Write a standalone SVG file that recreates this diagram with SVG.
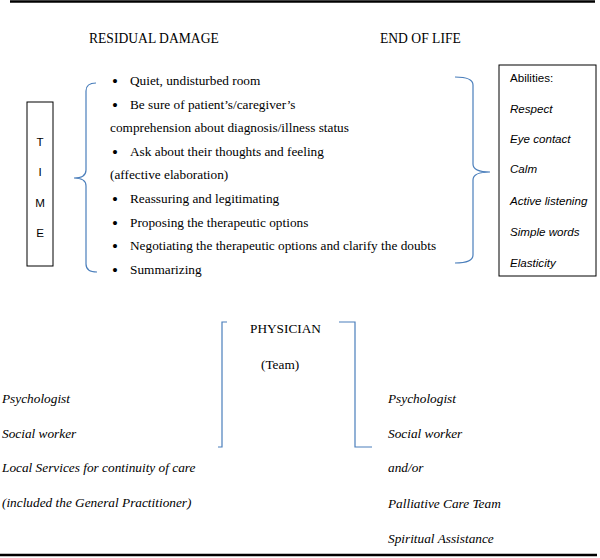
<svg xmlns="http://www.w3.org/2000/svg" width="600" height="558" viewBox="0 0 600 558">
<style>
.s{font-family:"Liberation Serif","Times New Roman",serif;font-size:13.3px;fill:#000}
.i{font-style:italic}
.d{font-family:"Liberation Serif","Times New Roman",serif;font-size:17px;fill:#000}
.h{font-family:"Liberation Serif","Times New Roman",serif;font-size:13.6px;fill:#000}
.c{font-family:"Liberation Sans",Arial,sans-serif;font-size:11.6px;fill:#000}
.b{fill:none;stroke:#4a7ebb;stroke-width:1.2}
.box{fill:#fff;stroke:#000;stroke-width:1}
.rule{stroke:#000;stroke-width:2.5}
</style>
<rect width="600" height="558" fill="#fff"/>
<line class="rule" x1="10" y1="1.5" x2="595" y2="1.5"/>
<line class="rule" x1="0" y1="555" x2="597" y2="555"/>
<text class="h" x="89" y="43">RESIDUAL DAMAGE</text>
<text class="h" x="380" y="43">END OF LIFE</text>
<g id="time">
<rect class="box" x="27" y="102" width="26" height="164"/>
<text class="c" x="40" y="146" text-anchor="middle">T</text>
<text class="c" x="40" y="176" text-anchor="middle">I</text>
<text class="c" x="40" y="207" text-anchor="middle">M</text>
<text class="c" x="40" y="237" text-anchor="middle">E</text>
</g>
<g id="connectors">
<path class="b" d="M96,83 Q86,83 86,91 L86,170 Q86,178 74,178 Q86,178 86,186 L86,264 Q86,272 97,272"/>
<path class="b" d="M455,77 Q473,77 473,85 L473,164 Q473,172 490,172 Q473,172 473,180 L473,255 Q473,263 455,263"/>
<path class="b" d="M227,322 L222,322 L222,447 L218,447"/>
<path class="b" d="M339,322 L355,322 L355,447 L372,447"/>
</g>
<g id="steps">
<text class="d" x="112" y="87">•</text><text class="s" x="130" y="85">Quiet, undisturbed  room</text>
<text class="d" x="112" y="111">•</text><text class="s" x="130" y="109">Be sure of patient’s/caregiver’s</text>
<text class="s" x="110" y="132">comprehension about diagnosis/illness status</text>
<text class="d" x="112" y="158">•</text><text class="s" x="130" y="156">Ask about their thoughts and feeling</text>
<text class="s" x="110" y="179">(affective elaboration)</text>
<text class="d" x="112" y="205">•</text><text class="s" x="130" y="203">Reassuring and legitimating</text>
<text class="d" x="112" y="229">•</text><text class="s" x="130" y="227">Proposing the therapeutic options</text>
<text class="d" x="112" y="252">•</text><text class="s" x="130" y="250">Negotiating the therapeutic options and clarify the doubts</text>
<text class="d" x="112" y="276">•</text><text class="s" x="130" y="274">Summarizing</text>
</g>
<g id="abilities">
<rect class="box" x="499" y="65" width="97" height="211"/>
<text class="c" x="510" y="82">Abilities:</text>
<text class="c i" x="510" y="113">Respect</text>
<text class="c i" x="510" y="143">Eye contact</text>
<text class="c i" x="510" y="173">Calm</text>
<text class="c i" x="510" y="205">Active listening</text>
<text class="c i" x="510" y="236">Simple words</text>
<text class="c i" x="510" y="267">Elasticity</text>
</g>
<g id="physician">
<text class="s" x="250" y="333">PHYSICIAN</text>
<text class="s" x="261" y="369">(Team)</text>
</g>
<g id="residual-team">
<text class="s i" x="2" y="403">Psychologist</text>
<text class="s i" x="2" y="438">Social worker</text>
<text class="s i" x="2" y="472">Local Services for continuity of care</text>
<text class="s i" x="2" y="507">(included the General Practitioner)</text>
</g>
<g id="endoflife-team">
<text class="s i" x="388" y="403">Psychologist</text>
<text class="s i" x="388" y="438">Social worker</text>
<text class="s i" x="388" y="472">and/or</text>
<text class="s i" x="388" y="508">Palliative Care Team</text>
<text class="s i" x="388" y="543">Spiritual Assistance</text>
</g>
</svg>
